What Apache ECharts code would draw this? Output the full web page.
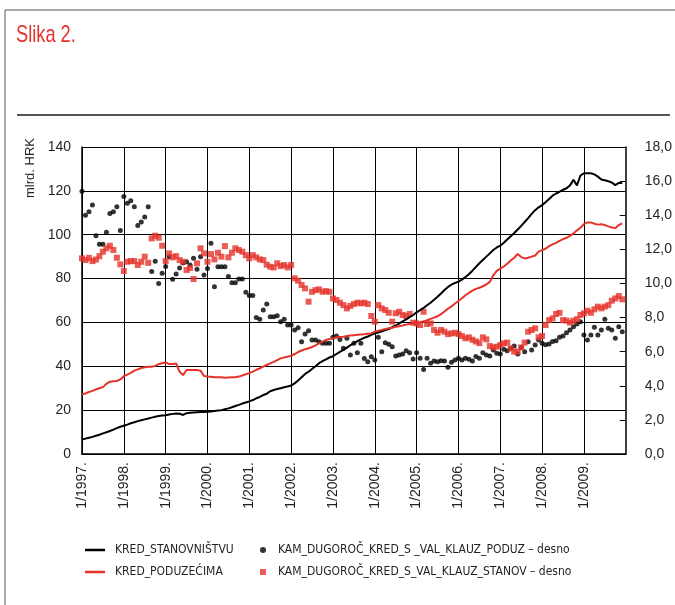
<!DOCTYPE html>
<html><head><meta charset="utf-8">
<script src="https://cdn.jsdelivr.net/npm/echarts@6/dist/echarts.min.js"></script>
<style>html,body{margin:0;padding:0;background:#fff}#c{width:675px;height:605px}</style>
</head><body><div id="c"></div>
<script>
var years = [1997,1998,1999,2000,2001,2002,2003,2004,2005,2006,2007,2008,2009,2010];
var yLeftTicks = [0,20,40,60,80,100,120,140];
var yRightTicks = ['0,0','2,0','4,0','6,0','8,0','10,0','12,0','14,0','16,0','18,0'];
var seriesNames = ['KRED_STANOVNIŠTVU','KRED_PODUZEĆIMA','KAM_DUGOROČ_KRED_S _VAL_KLAUZ_PODUZ – desno','KAM_DUGOROČ_KRED_S_VAL_KLAUZ_STANOV – desno'];

var kredStanovnistvu = [
6.6,7.0,7.4,7.8,8.3,8.8,9.4,9.9,10.5,11.1,11.8,12.4,
12.9,13.4,14.0,14.5,15.0,15.4,15.8,16.2,16.6,17.0,17.3,17.6,
17.7,18.0,18.3,18.5,18.4,17.8,18.6,18.8,18.9,19.0,19.1,19.2,
19.3,19.4,19.6,19.8,20.0,20.4,20.8,21.3,21.9,22.4,23.0,23.5,
24.0,24.6,25.4,26.0,26.9,27.5,28.6,29.2,29.6,30.0,30.4,30.8,
31.2,32.2,33.5,35.0,36.5,37.5,38.8,40.0,41.4,42.3,43.2,44.0,
44.6,45.6,46.6,47.5,48.5,49.6,50.5,51.5,52.3,53.0,53.6,54.3,
55.0,55.4,55.9,56.5,57.0,57.8,58.6,59.5,60.5,61.4,62.4,63.4,
64.6,65.6,66.6,67.8,69.0,70.3,71.7,73.2,74.8,76.2,77.2,78.0,
78.6,79.5,80.7,82.0,83.6,85.3,87.0,88.5,90.0,91.5,93.0,94.2,
95.0,96.3,97.8,99.3,100.8,102.4,104.0,105.8,107.6,109.5,111.2,112.5,
113.5,114.8,116.3,117.8,118.8,119.6,120.5,121.2,122.5,125.0,122.5,127.0,
128.0,128.0,128.0,127.5,126.5,125.2,124.8,124.4,123.8,122.6,123.6,123.6];

var kredPoduzecima = [
27.2,27.6,28.3,28.8,29.5,30.0,30.5,32.0,33.0,33.2,33.3,34.0,
35.5,36.2,37.0,38.0,38.6,39.2,39.6,39.8,39.8,40.2,41.0,41.4,
41.8,41.0,41.0,41.3,37.5,36.0,38.3,38.3,38.3,38.3,38.0,35.6,
35.3,35.2,35.0,35.0,35.0,34.8,34.9,35.0,35.0,35.3,35.8,36.4,
36.9,37.6,38.4,39.0,39.8,40.6,41.3,42.0,42.8,43.6,44.0,44.4,
44.8,45.6,46.5,47.2,47.8,48.2,48.8,49.5,50.4,51.2,52.0,52.5,
52.8,53.2,53.4,53.5,53.8,54.0,54.2,54.4,54.5,54.6,54.8,55.0,
55.8,56.2,56.6,57.0,57.3,57.6,58.0,58.3,58.6,59.0,59.3,59.6,
59.8,60.1,60.5,61.0,61.6,62.2,62.8,63.8,65.0,66.3,67.3,68.6,
69.8,71.0,72.4,73.5,74.5,75.3,75.8,76.5,77.3,78.5,81.5,83.5,
84.5,85.5,86.8,88.2,89.5,91.2,89.8,89.2,89.5,90.0,90.5,92.3,
93.0,93.6,94.8,95.6,96.3,97.2,98.0,98.6,99.5,100.6,102.0,103.2,
104.8,105.6,105.6,105.0,104.6,104.8,104.4,103.8,103.3,103.0,104.4,105.2];

var kamPoduz = [
15.4,14.0,14.2,14.6,12.8,12.3,12.3,13.0,14.1,14.2,14.5,13.1,
15.1,14.7,14.85,14.5,13.4,13.6,13.9,14.5,10.7,11.3,10.0,10.6,
11.0,11.57,10.24,10.55,10.9,11.2,11.27,11.08,11.47,10.83,11.57,10.49,
10.88,12.35,9.8,10.98,10.98,10.98,10.4,10.04,10.04,10.26,10.26,9.48,
9.3,9.3,8.0,7.9,8.44,8.79,8.05,8.05,8.1,7.76,7.9,7.56,
7.56,7.27,7.4,6.58,7.03,7.23,6.68,6.68,6.58,6.5,6.5,6.49,
6.84,6.92,6.72,6.2,6.78,5.8,6.49,5.94,6.5,5.6,5.41,5.7,
5.51,6.84,6.0,6.53,6.43,6.29,5.74,5.8,5.86,6.06,5.94,5.57,
5.94,5.61,4.96,5.61,5.32,5.45,5.41,5.47,5.45,5.08,5.38,5.51,
5.61,5.51,5.61,5.55,5.45,5.72,5.61,5.94,5.8,5.75,6.1,5.9,
5.86,6.14,6.06,6.2,6.33,5.86,6.25,6.0,6.58,6.1,6.39,6.68,
6.5,6.4,6.45,6.6,6.64,6.84,6.92,7.11,7.27,7.46,7.62,7.76,
6.98,6.68,6.98,7.43,6.98,7.27,7.9,7.37,7.27,6.78,7.46,7.17];

var kamStanov = [
11.47,11.37,11.5,11.31,11.4,11.6,11.86,12.06,12.21,11.96,11.51,11.12,
10.73,11.27,11.31,11.31,11.08,11.27,11.57,11.21,12.64,12.8,12.68,12.21,
11.31,11.76,11.53,11.6,11.37,11.27,10.79,10.9,10.26,11.18,12.06,11.76,
11.27,11.72,11.41,11.8,11.57,12.19,11.53,11.8,12.06,11.96,11.86,11.66,
11.47,11.66,11.53,11.41,11.37,11.1,10.98,10.94,11.18,11.02,11.08,10.94,
11.08,10.3,10.16,9.91,9.71,8.93,9.51,9.61,9.65,9.51,9.55,9.51,
9.12,9.03,8.87,8.73,8.54,8.68,8.79,8.87,8.83,8.87,8.79,8.09,
7.76,8.73,8.54,8.44,8.28,7.76,8.25,8.34,8.15,8.09,8.21,7.7,
7.66,7.56,8.34,7.62,7.66,7.27,7.11,7.27,7.17,7.03,7.07,7.11,
7.03,6.92,6.78,6.84,6.7,6.6,6.5,6.84,6.72,6.33,6.25,6.29,
6.39,6.49,6.53,6.19,6.0,6.0,6.25,6.53,7.17,7.27,7.37,6.84,
6.92,7.56,7.85,7.95,8.21,8.28,7.85,7.82,7.7,7.82,7.9,8.15,
8.25,8.4,8.28,8.48,8.64,8.54,8.64,8.73,8.99,9.12,9.26,9.07];

// month categories 1/1997 ... 1/2010
var categories = [];
years.forEach(function(y, i){
  var last = (i === years.length - 1) ? 1 : 12;
  for (var m = 1; m <= last; m++) categories.push(m + '/' + y + '.');
});

var RED = '#e5332a';
var TXT = '#231f20';
var NARROW = '"DejaVu Sans Condensed","Liberation Sans Narrow","Liberation Sans",sans-serif';
var SANS = '"Liberation Sans",Arial,sans-serif';
var isJan = function(idx){ return idx % 12 === 0 && idx < categories.length - 1; };

var chart = echarts.init(document.getElementById('c'), null, {renderer:'canvas'});
chart.setOption({
  animation: false,
  backgroundColor: '#fff',
  grid: {left: 82, right: 49, top: 147, bottom: 151, containLabel: false},
  xAxis: {
    type: 'category', data: categories, boundaryGap: false,
    axisLine: {show: true, lineStyle: {color: '#000', width: 1.5}},
    axisTick: {show: false},
    axisLabel: {interval: function(i){return isJan(i);}, rotate: 90, margin: 8,
      fontFamily: SANS, fontSize: 14, color: TXT},
    splitLine: {show: true, interval: function(i){return isJan(i);}, lineStyle: {color: '#000', width: 1}}
  },
  yAxis: [{
    type: 'value', min: 0, max: 140, interval: 20, position: 'left',
    axisLine: {show: true, lineStyle: {color: '#000', width: 1.5}},
    axisTick: {show: false},
    axisLabel: {margin: 11, fontFamily: SANS, fontSize: 14, color: TXT,
      formatter: function(v){ return yLeftTicks.indexOf(v) >= 0 ? String(v) : ''; }},
    splitLine: {show: true, lineStyle: {color: '#000', width: 1}}
  }, {
    type: 'value', min: 0, max: 18, interval: 2, position: 'right',
    axisLine: {show: true, lineStyle: {color: '#000', width: 1.5}},
    axisTick: {show: true, inside: true, length: 6, lineStyle: {color: '#000', width: 1}},
    axisLabel: {margin: 19, fontFamily: SANS, fontSize: 14, color: TXT, align: 'left',
      formatter: function(v){ return yRightTicks[Math.round(v/2)]; }},
    splitLine: {show: false}
  }],
  legend: [{
    left: 80, top: 539, orient: 'vertical', itemGap: 10, itemWidth: 20, itemHeight: 2.5,
    icon: 'rect', data: [seriesNames[0], seriesNames[1]],
    textStyle: {fontFamily: NARROW, fontSize: 12, color: TXT, padding: [0,0,0,5]}
  }, {
    left: 255, top: 539, orient: 'vertical', itemGap: 10, itemWidth: 6, itemHeight: 6,
    data: [{name: seriesNames[2], icon: 'circle'}, {name: seriesNames[3], icon: 'rect'}],
    textStyle: {fontFamily: NARROW, fontSize: 12, color: TXT, padding: [0,0,0,7]}
  }],
  graphic: [
    {type: 'line', shape: {x1: 5, y1: 10, x2: 675, y2: 10}, style: {stroke: '#555', lineWidth: 1}},
    {type: 'line', shape: {x1: 5, y1: 10, x2: 5, y2: 605}, style: {stroke: '#555', lineWidth: 1}},
    {type: 'line', shape: {x1: 17, y1: 115, x2: 670, y2: 115}, style: {stroke: '#555', lineWidth: 2}},
    {type: 'text', x: 16, y: 35.5, scaleX: 0.76,
      style: {text: 'Slika 2.', fill: RED, font: '24px ' + SANS, align: 'left', verticalAlign: 'middle'}},
    {type: 'text', x: 30, y: 168, rotation: Math.PI/2,
      style: {text: 'mlrd. HRK', fill: TXT, font: '13px ' + SANS, align: 'center', verticalAlign: 'middle'}}
  ],
  series: [
    {name: seriesNames[2], type: 'scatter', yAxisIndex: 1, data: kamPoduz, symbol: 'circle', symbolSize: 5,
      itemStyle: {color: '#000'}},
    {name: seriesNames[3], type: 'scatter', yAxisIndex: 1, data: kamStanov, symbol: 'rect', symbolSize: 6,
      itemStyle: {color: RED}},
    {name: seriesNames[0], type: 'line', yAxisIndex: 0, data: kredStanovnistvu, showSymbol: false,
      lineStyle: {color: '#000', width: 2}, itemStyle: {color: '#000'}},
    {name: seriesNames[1], type: 'line', yAxisIndex: 0, data: kredPoduzecima, showSymbol: false,
      lineStyle: {color: RED, width: 2}, itemStyle: {color: RED}}
  ]
});
</script></body></html>
